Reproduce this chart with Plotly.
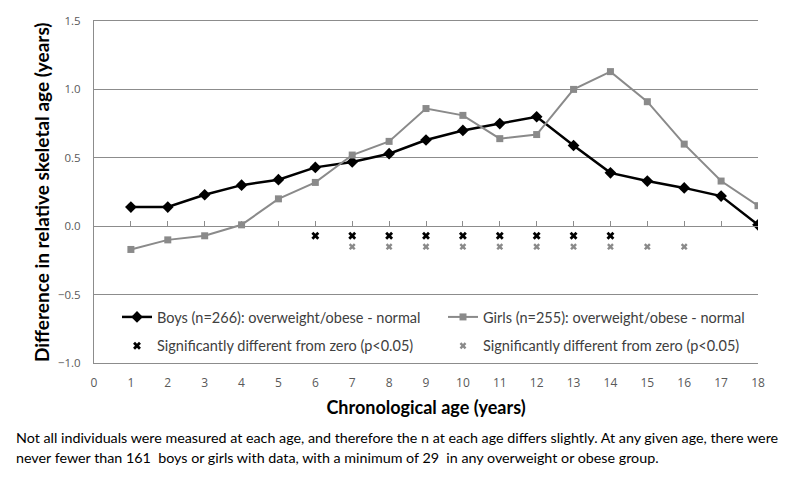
import plotly.graph_objects as go

# Chronological age (years)
ages = list(range(1, 19))

# Difference in relative skeletal age (years): overweight/obese - normal
boys_diff = [0.14, 0.14, 0.23, 0.30, 0.34, 0.43, 0.47, 0.53, 0.63,
             0.70, 0.75, 0.80, 0.59, 0.39, 0.33, 0.28, 0.22, 0.01]
girls_diff = [-0.17, -0.10, -0.07, 0.01, 0.20, 0.32, 0.52, 0.62, 0.86,
              0.81, 0.64, 0.67, 1.00, 1.13, 0.91, 0.60, 0.33, 0.15]

# ages where the difference is significant (p<0.05)
boys_sig_ages = [6, 7, 8, 9, 10, 11, 12, 13, 14]
girls_sig_ages = [7, 8, 9, 10, 11, 12, 13, 14, 15, 16]
boys_sig_level = -0.07
girls_sig_level = -0.15

x_ticks = list(range(0, 19))
y_ticks = [-1.0, -0.5, 0.0, 0.5, 1.0, 1.5]

GRID = "#8c8c8c"
GIRL = "#8a8a8a"
FONT = "Lato"

# page body adds an 8px offset, so the figure box is shifted
L, T, R, B = 86, 13, 50, 127
PW = 800 - L - R
PH = 482 - T - B
BOTTOM = 482 - B


def px_x(x):
    return (x - L) / PW


def px_y(y):
    return (BOTTOM - y) / PH


fig = go.Figure()

fig.add_trace(go.Scatter(
    x=ages, y=boys_diff, mode="lines+markers",
    name="Boys (n=266): overweight/obese - normal",
    line=dict(color="black", width=2.5),
    marker=dict(symbol="diamond", size=9, color="black"),
    legend="legend", legendgroup="boys",
))
fig.add_trace(go.Scatter(
    x=ages, y=girls_diff, mode="lines+markers",
    name="Girls (n=255): overweight/obese - normal",
    line=dict(color=GIRL, width=2),
    marker=dict(symbol="square", size=7, color=GIRL),
    legend="legend2", legendgroup="girls",
))
fig.add_trace(go.Scatter(
    x=boys_sig_ages, y=[boys_sig_level] * len(boys_sig_ages), mode="markers",
    name="Significantly different from zero (p<0.05)",
    marker=dict(symbol="x", size=7, color="black"),
    xaxis="x2", legend="legend", legendgroup="boys_sig",
))
fig.add_trace(go.Scatter(
    x=girls_sig_ages, y=[girls_sig_level] * len(girls_sig_ages), mode="markers",
    name="Significantly different from zero (p<0.05)",
    marker=dict(symbol="x", size=6, color=GIRL),
    xaxis="x2", legend="legend2", legendgroup="girls_sig",
))

legend_style = dict(
    orientation="v", yanchor="top", xanchor="left",
    tracegroupgap=7, bgcolor="rgba(0,0,0,0)",
    font=dict(family=FONT, size=14.5, color="#404040"),
)

fig.update_layout(
    width=800, height=482,
    margin=dict(l=L, r=R, t=T, b=B, autoexpand=False),
    plot_bgcolor="white", paper_bgcolor="white",
    font=dict(family=FONT, size=13, color="#404040"),
    xaxis=dict(
        range=[0, 18], tickmode="array", tickvals=x_ticks,
        showgrid=False, zeroline=False, showline=True, mirror=True,
        linecolor=GRID, linewidth=1, ticks="", ticklabelstandoff=9,
        tickfont=dict(family="Open Sans", size=12, color="#595959"),
        title=dict(text="<b>Chronological age (years)</b>", standoff=10,
                   font=dict(family=FONT, size=18, color="black")),
    ),
    xaxis2=dict(
        range=[0, 18], overlaying="x", anchor="free", position=0.4,
        tickmode="array", tickvals=x_ticks, showticklabels=False,
        ticks="inside", ticklen=5, tickcolor=GRID,
        showline=True, linecolor=GRID, linewidth=1,
        showgrid=False, zeroline=False,
    ),
    yaxis=dict(
        range=[-1.0, 1.5], tickmode="array", tickvals=y_ticks,
        tickformat=".1f", showgrid=True, gridcolor=GRID, gridwidth=1,
        zeroline=False, showline=True, linecolor=GRID, linewidth=1,
        ticks="", ticklabelstandoff=10,
        tickfont=dict(family="Open Sans", size=11.5, color="#595959"),
    ),
    legend=dict(x=px_x(109), y=px_y(293), **legend_style),
    legend2=dict(x=px_x(435), y=px_y(293), **legend_style),
    showlegend=True,
)

# y axis title placed as a rotated annotation
fig.add_annotation(
    text="<b>Difference in relative skeletal age (years)</b>",
    xref="paper", yref="paper", x=px_x(33), y=0.5,
    xanchor="center", yanchor="middle", textangle=-90, showarrow=False,
    font=dict(family=FONT, size=19, color="black"),
)

note_lines = [
    "Not all individuals were measured at each age, and therefore the n at each age "
    "differs slightly. At any given age, there were",
    "never fewer than 161  boys or girls with data, with a minimum of 29  in any "
    "overweight or obese group.",
]
for i, line in enumerate(note_lines):
    fig.add_annotation(
        text=line, xref="paper", yref="paper",
        x=px_x(6), y=px_y(429 + 21 * i),
        xanchor="left", yanchor="middle", showarrow=False,
        font=dict(family=FONT, size=14.3, color="black"),
    )

fig.write_html("out.html")
